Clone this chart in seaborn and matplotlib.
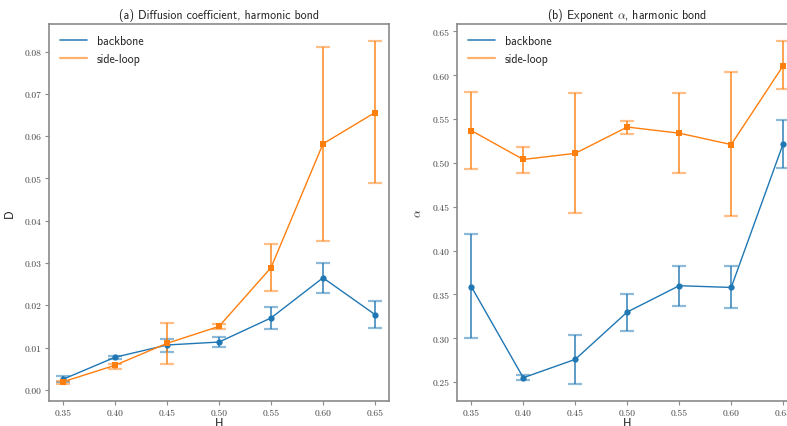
import matplotlib
matplotlib.use("Agg")
import matplotlib.pyplot as plt
import seaborn as sns
import numpy as np
from matplotlib.lines import Line2D
from matplotlib.ticker import FixedLocator, FuncFormatter

sns.set_theme(style="ticks")
plt.rcParams['mathtext.fontset'] = 'cm'
plt.rcParams['axes.unicode_minus'] = False

H = [0.35, 0.40, 0.45, 0.50, 0.55, 0.60, 0.65]

# (a) Diffusion coefficient
D_backbone = [0.0025, 0.0077, 0.0106, 0.0113, 0.0170, 0.0265, 0.0178]
D_backbone_lo = [0.0018, 0.0072, 0.0090, 0.0102, 0.0143, 0.0228, 0.0147]
D_backbone_hi = [0.0032, 0.0081, 0.0121, 0.0125, 0.0197, 0.0301, 0.0210]
D_side = [0.0019, 0.0058, 0.0110, 0.0150, 0.0289, 0.0582, 0.0656]
D_side_lo = [0.0014, 0.0050, 0.0062, 0.0145, 0.0233, 0.0353, 0.0489]
D_side_hi = [0.0022, 0.0062, 0.0157, 0.0155, 0.0344, 0.0810, 0.0825]

# (b) Exponent alpha
A_backbone = [0.359, 0.255, 0.276, 0.330, 0.360, 0.358, 0.522]
A_backbone_lo = [0.300, 0.252, 0.248, 0.308, 0.337, 0.335, 0.494]
A_backbone_hi = [0.419, 0.258, 0.304, 0.351, 0.382, 0.382, 0.549]
A_side = [0.537, 0.504, 0.511, 0.541, 0.534, 0.521, 0.611]
A_side_lo = [0.493, 0.489, 0.443, 0.533, 0.489, 0.439, 0.584]
A_side_hi = [0.581, 0.518, 0.580, 0.548, 0.580, 0.604, 0.639]

series_labels = ["backbone", "side-loop"]
titles = [r"(a) Diffusion coefficient, harmonic bond", r"(b) Exponent $\alpha$, harmonic bond"]
ylabels = ["D", r"$\alpha$"]

BLUE = "#1f77b4"
ORANGE = "#ff7f0e"
SPINE = "#8a8a8a"

fig = plt.figure(figsize=(7.87, 4.27), dpi=100)
ax1 = fig.add_axes([0.0623, 0.0585, 0.432, 0.883])
ax2 = fig.add_axes([0.581, 0.0585, 0.432, 0.883])

def draw(ax, sets, title, ylabel, yticks):
    for (y, lo, hi), color, marker, lab in zip(sets, [BLUE, ORANGE], ["o", "s"], series_labels):
        y = np.array(y); lo = np.array(lo); hi = np.array(hi)
        _, caps, bars = ax.errorbar(H, y, yerr=[y - lo, hi - y], fmt="none", ecolor=color,
                                    elinewidth=1.2, capsize=4.7, capthick=1.6, zorder=2)
        for c in caps:
            c.set_alpha(0.5)
        for b in bars:
            b.set_alpha(0.85)
        sns.lineplot(x=H, y=y, ax=ax, color=color, marker=marker, markersize=4.5,
                     markeredgewidth=0, linewidth=1.0, zorder=3, errorbar=None)
    ax.set_title(title, fontsize=8.6, family="cmss10", pad=4)
    ax.set_xlabel("H", fontsize=8.6, family="cmss10", labelpad=0)
    if ylabel == "D":
        ax.set_ylabel(ylabel, fontsize=8.6, family="cmss10", labelpad=6)
    else:
        ax.set_ylabel(ylabel, fontsize=8.6, labelpad=6)
    ax.xaxis.set_major_locator(FixedLocator(H))
    ax.yaxis.set_major_locator(FixedLocator(yticks))
    ax.xaxis.set_major_formatter(FuncFormatter(lambda v, p: f"{v:.2f}"))
    ax.yaxis.set_major_formatter(FuncFormatter(lambda v, p: f"{v:.2f}"))
    for lbl in ax.get_xticklabels() + ax.get_yticklabels():
        lbl.set_family("cmr10")
        lbl.set_fontsize(6.9)
        lbl.set_color("#444444")
    ax.tick_params(axis="both", direction="out", length=3, width=0.8, color=SPINE, pad=2.5)
    for s in ax.spines.values():
        s.set_visible(True)
        s.set_color(SPINE)
        s.set_linewidth(1.2)
    handles = [Line2D([], [], color=BLUE, lw=1.2, alpha=0.9),
               Line2D([], [], color=ORANGE, lw=1.6, alpha=0.6)]
    ax.legend(handles, series_labels, loc="upper left", frameon=False,
              prop={"family": "cmss10", "size": 8.6}, handlelength=2.3, labelspacing=0.55)
    ax.margins(x=0.045, y=0.05)

draw(ax1, [(D_backbone, D_backbone_lo, D_backbone_hi), (D_side, D_side_lo, D_side_hi)],
     titles[0], ylabels[0], [0.0, 0.01, 0.02, 0.03, 0.04, 0.05, 0.06, 0.07, 0.08])
draw(ax2, [(A_backbone, A_backbone_lo, A_backbone_hi), (A_side, A_side_lo, A_side_hi)],
     titles[1], ylabels[1], [0.25, 0.30, 0.35, 0.40, 0.45, 0.50, 0.55, 0.60, 0.65])

fig.savefig("out.png", dpi=100)
